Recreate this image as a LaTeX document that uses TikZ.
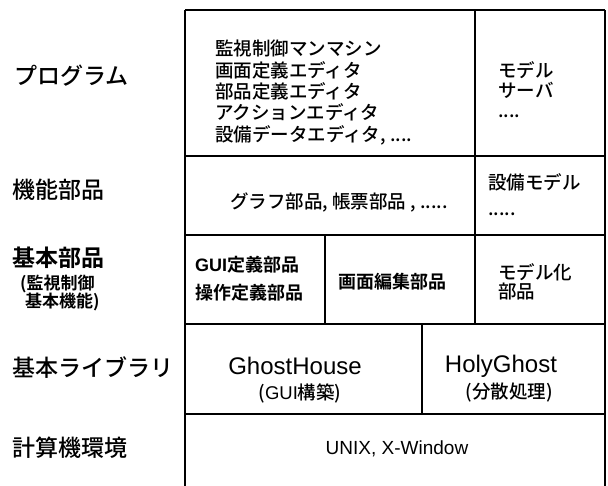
\documentclass[tikz,border=0pt]{standalone}
\usepackage{fontspec}
\setmainfont{Noto Sans CJK JP Medium}[BoldFont=Noto Sans CJK JP Bold]
\newfontfamily\lat{Liberation Sans}
\begin{document}
\begin{tikzpicture}[x=1pt,y=-1pt,
  frame/.style={line width=2.4pt},
  rule/.style={line width=1.8pt},
  divider/.style={line width=1.5pt},
  rowlabel/.style={anchor=west,inner sep=0pt,font=\fontsize{23}{26}\selectfont},
  sublabel/.style={anchor=west,inner sep=0pt,align=left,font=\bfseries\fontsize{17}{15.5}\selectfont},
  item/.style={inner sep=0pt,font=\fontsize{18.5}{21.3}\selectfont},
  bolditem/.style={inner sep=0pt,font=\bfseries\fontsize{18}{21.3}\selectfont},
  latbig/.style={inner sep=0pt,font=\lat\fontsize{24}{26}\selectfont},
  latsmall/.style={inner sep=0pt,font=\lat\fontsize{19}{22}\selectfont}
]
\useasboundingbox (0,0) rectangle (608,486);
% frame
\coordinate (bl) at (185,486);
\coordinate (tl) at (185,10);
\coordinate (tr) at (605,10);
\coordinate (br) at (605,486);
\draw[divider] (tr) -- (br);
\draw[rule] (tl) -- (tr);
\draw[frame] (bl) -- (tl);
% row rules
\foreach \yy in {156,235,324,414}
  \draw[rule] (185,\yy) -- (605,\yy);
% column dividers
\draw[divider] (475,10) -- (475,324);
\draw[divider] (325,235) -- (325,324);
\draw[divider] (422,324) -- (422,414);
% left labels
\node[rowlabel] (l1) at (14,76) {プログラム};
\node[rowlabel] (l2) at (12,190) {機能部品};
\node[rowlabel,font=\bfseries\fontsize{23}{26}\selectfont] (l3) at (12,258) {基本部品};
\node[sublabel] (l3s) at (20,293) {(監視制御\\\hspace*{5pt}基本機能)};
\node[rowlabel] (l4) at (12,368) {基本ライブラリ};
\node[rowlabel] (l5) at (12,448) {計算機環境};
% row 1
\node[item,anchor=west,align=left] (p1) at (215,92.5)
  {監視制御マンマシン\\画面定義エディタ\\部品定義エディタ\\アクションエディタ\\設備データエディタ, ....};
\node[item,anchor=west,align=left,font=\fontsize{18.5}{20}\selectfont] (p2) at (498,90)
  {モデル\\サーバ\\....};
% row 2
\node[item] (f1) at (339,202) {グラフ部品, 帳票部品 , .....};
\node[item,anchor=west,align=left,font=\fontsize{18.5}{26}\selectfont] (f2) at (488,195) {設備モデル\\.....};
% row 3
\node[bolditem,anchor=west,align=left,font=\bfseries\fontsize{18}{28}\selectfont] (b1) at (195,279) {{\lat\bfseries GUI}定義部品\\操作定義部品};
\node[bolditem] (b2) at (392,282) {画面編集部品};
\node[item,anchor=west,align=left,font=\fontsize{18.5}{19}\selectfont] (b3) at (498,282) {モデル化\\部品};
% row 4
\node[latbig] (g1) at (295,366) {GhostHouse};
\node[item] (g2) at (300,393) {({\lat GUI}構築)};
\node[latbig] (h1) at (501,366) {HolyGhost};
\node[item] (h2) at (509,393) {(分散処理)};
% row 5
\node[latsmall] (u1) at (397,449) {UNIX, X-Window};
\end{tikzpicture}
\end{document}
